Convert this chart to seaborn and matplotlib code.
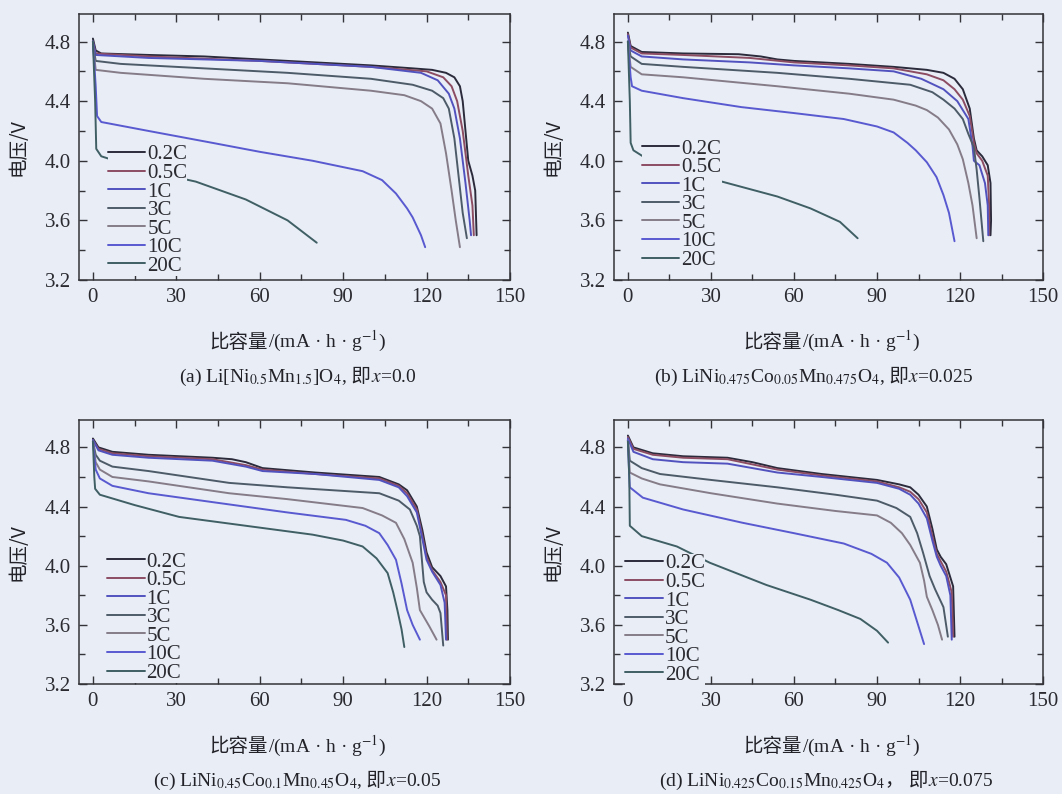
import numpy as np
import pandas as pd
import matplotlib
matplotlib.use("Agg")
import matplotlib.pyplot as plt
import seaborn as sns
from matplotlib.ticker import MultipleLocator
from matplotlib.lines import Line2D
from matplotlib.offsetbox import AnchoredOffsetbox, HPacker, TextArea

# ---------------- data (capacity mAh/g, voltage V) ----------------
RATES = ["0.2C", "0.5C", "1C", "3C", "5C", "10C", "20C"]
X_TICKS = [0, 30, 60, 90, 120, 150]
Y_TICKS = [3.2, 3.6, 4.0, 4.4, 4.8]

# panel (a)  x = 0.0
A_02C = [(0, 4.82), (1, 4.74), (3, 4.72), (20, 4.71), (40, 4.70), (60, 4.68), (80, 4.66), (100, 4.64), (115, 4.62),
         (122, 4.61), (127, 4.59), (130, 4.56), (132, 4.50), (133, 4.40), (134, 4.20), (135, 4.00), (136.5, 3.90),
         (137.5, 3.80), (138, 3.50)]
A_05C = [(0, 4.80), (1, 4.72), (20, 4.70), (60, 4.67), (100, 4.63), (120, 4.60), (126, 4.56), (129, 4.50), (131, 4.40),
         (133, 4.20), (135, 3.90), (136.5, 3.70), (137, 3.50)]
A_1C = [(0, 4.80), (1, 4.71), (20, 4.69), (60, 4.67), (100, 4.63), (118, 4.59), (124, 4.54), (128, 4.45), (130, 4.35),
        (132, 4.15), (134, 3.85), (135.5, 3.60), (136, 3.50)]
A_3C = [(0, 4.78), (1, 4.67), (10, 4.65), (40, 4.62), (70, 4.59), (100, 4.55), (115, 4.51), (122, 4.47), (126, 4.42),
        (128, 4.35), (130, 4.15), (131.5, 3.90), (133, 3.65), (134.5, 3.48)]
A_5C = [(0, 4.78), (1, 4.61), (10, 4.59), (40, 4.55), (70, 4.52), (100, 4.47), (112, 4.44), (118, 4.40), (122, 4.35),
        (125, 4.25), (127, 4.05), (129, 3.80), (130.5, 3.60), (132, 3.42)]
A_10C = [(0, 4.80), (1, 4.50), (1.5, 4.30), (3, 4.26), (20, 4.20), (43, 4.12), (60, 4.06), (79, 4.00), (97, 3.93),
         (104, 3.87), (109, 3.78), (113, 3.68), (115, 3.62), (118, 3.50), (119.5, 3.42)]
A_20C = [(0, 4.80), (0.8, 4.40), (1.2, 4.08), (3, 4.03), (8, 4.00), (20, 3.93), (37, 3.86), (55, 3.74), (70, 3.60),
         (80.5, 3.45)]

# panel (b)  x = 0.025
B_02C = [(0, 4.86), (1, 4.77), (5, 4.73), (20, 4.72), (40, 4.715), (48, 4.70), (54, 4.68), (60, 4.67), (80, 4.65),
         (96, 4.63), (108, 4.61), (114, 4.59), (118, 4.55), (121, 4.48), (123.5, 4.35), (125, 4.15), (126, 4.07),
         (128, 4.03), (130, 3.97), (131, 3.85), (131.2, 3.60), (131, 3.50)]
B_05C = [(0, 4.85), (1, 4.76), (5, 4.72), (20, 4.71), (44, 4.69), (60, 4.66), (80, 4.64), (96, 4.62), (108, 4.58),
         (114, 4.54), (118, 4.48), (121, 4.41), (123.5, 4.30), (125, 4.12), (126, 4.05), (128, 4.00), (130, 3.90),
         (130.5, 3.70), (130.5, 3.50)]
B_1C = [(0, 4.84), (1, 4.74), (5, 4.70), (20, 4.68), (44, 4.66), (60, 4.64), (80, 4.62), (96, 4.60), (106, 4.55),
        (114, 4.48), (119, 4.40), (123, 4.28), (124.5, 4.10), (125, 4.00), (127, 3.97), (129, 3.85), (130, 3.70),
        (130.2, 3.50)]
B_3C = [(0, 4.80), (1, 4.70), (5, 4.65), (20, 4.63), (54, 4.59), (80, 4.55), (102, 4.51), (110, 4.46), (114, 4.41),
        (118, 4.35), (121, 4.28), (123, 4.18), (125, 4.09), (126, 3.94), (127, 3.75), (128.4, 3.46)]
B_5C = [(0, 4.80), (1, 4.63), (5, 4.58), (20, 4.56), (54, 4.50), (80, 4.45), (96, 4.41), (104, 4.37), (108, 4.34),
        (112, 4.29), (116, 4.21), (119, 4.11), (121, 4.01), (123, 3.85), (124.5, 3.70), (126, 3.48)]
B_10C = [(0, 4.80), (1, 4.56), (1.5, 4.50), (5, 4.47), (20, 4.42), (41, 4.36), (60, 4.32), (78, 4.28), (90, 4.23),
         (96, 4.19), (101, 4.12), (104, 4.07), (108, 3.99), (111.5, 3.89), (114, 3.77), (116, 3.65), (118, 3.46)]
B_20C = [(0, 4.80), (0.7, 4.40), (1, 4.12), (2, 4.07), (5.4, 4.03), (34, 3.86), (54, 3.76), (66, 3.68), (76.6, 3.59),
         (83, 3.48)]

# panel (c)  x = 0.05
C_02C = [(0, 4.86), (2, 4.80), (7, 4.77), (20, 4.75), (43, 4.73), (50, 4.72), (55, 4.70), (61, 4.66), (80, 4.63),
         (103, 4.60), (110, 4.55), (113, 4.51), (116.5, 4.40), (118.5, 4.24), (120, 4.09), (122, 3.99), (125, 3.93),
         (127, 3.86), (127.5, 3.70), (127.7, 3.50)]
C_05C = [(0, 4.85), (2, 4.79), (7, 4.76), (20, 4.74), (43, 4.72), (55, 4.68), (61, 4.65), (80, 4.62), (103, 4.59),
         (110, 4.54), (113, 4.49), (116.5, 4.38), (118.5, 4.20), (120, 4.06), (122, 3.97), (125, 3.89), (127, 3.80),
         (127.3, 3.50)]
C_1C = [(0, 4.85), (2, 4.78), (7, 4.75), (20, 4.73), (43, 4.71), (55, 4.67), (61, 4.64), (80, 4.62), (103, 4.58),
        (110, 4.53), (113, 4.47), (116.5, 4.36), (118.5, 4.18), (120, 4.04), (122, 3.96), (125, 3.87), (126.5, 3.75),
        (127, 3.50)]
C_3C = [(0, 4.84), (1, 4.75), (2.5, 4.71), (7, 4.67), (20, 4.64), (49, 4.56), (70, 4.53), (103, 4.49), (110, 4.44),
        (114, 4.38), (116.5, 4.27), (117.6, 4.20), (118.5, 4.00), (119, 3.89), (120, 3.82), (122, 3.77), (124, 3.73),
        (125, 3.68), (126, 3.46)]
C_5C = [(0, 4.84), (1, 4.70), (2.5, 4.65), (7, 4.60), (20, 4.57), (49, 4.49), (70, 4.45), (97, 4.39), (104, 4.34),
        (109, 4.29), (112, 4.18), (115, 4.02), (116.5, 3.85), (117.6, 3.70), (121, 3.59), (123.6, 3.50)]
C_10C = [(0, 4.84), (1, 4.65), (2.5, 4.59), (7, 4.54), (20, 4.49), (43, 4.43), (70, 4.36), (91, 4.31), (98, 4.27),
         (103, 4.22), (106, 4.14), (109, 4.04), (111, 3.88), (113, 3.70), (115, 3.60), (117.6, 3.50)]
C_20C = [(0, 4.84), (0.5, 4.60), (0.8, 4.52), (2.5, 4.48), (15, 4.41), (31, 4.33), (55, 4.27), (79, 4.21), (90, 4.17),
         (97, 4.13), (102, 4.05), (106, 3.95), (108, 3.82), (109.5, 3.70), (111, 3.57), (112, 3.45)]

# panel (d)  x = 0.075
D_02C = [(0, 4.88), (2, 4.80), (9, 4.76), (20, 4.74), (36, 4.73), (45, 4.70), (54, 4.66), (70, 4.62), (90, 4.58),
         (98, 4.55), (102, 4.53), (105, 4.48), (108, 4.40), (110, 4.25), (111.6, 4.11), (113, 4.06), (115, 4.01),
         (117.5, 3.86), (118, 3.52)]
D_05C = [(0, 4.87), (2, 4.79), (9, 4.75), (20, 4.73), (36, 4.72), (54, 4.65), (70, 4.61), (90, 4.57), (98, 4.53),
         (102, 4.50), (105, 4.45), (108, 4.36), (110, 4.20), (111.6, 4.08), (113, 4.03), (115, 3.96), (117, 3.82),
         (117.5, 3.52)]
D_1C = [(0, 4.86), (2, 4.77), (9, 4.72), (20, 4.70), (36, 4.69), (54, 4.63), (70, 4.60), (90, 4.56), (98, 4.52),
        (102, 4.48), (105, 4.42), (108, 4.32), (110, 4.17), (111.6, 4.06), (113, 4.00), (115, 3.93), (116.5, 3.80),
        (117, 3.50)]
D_3C = [(0, 4.85), (0.7, 4.71), (5, 4.66), (11.6, 4.62), (30, 4.58), (54, 4.53), (75, 4.48), (90, 4.44), (97, 4.39),
        (102, 4.33), (104.5, 4.22), (106.6, 4.09), (109, 3.93), (111, 3.84), (114, 3.72), (115.6, 3.52)]
D_5C = [(0, 4.85), (0.7, 4.63), (5, 4.59), (11.6, 4.55), (30, 4.49), (54, 4.42), (75, 4.37), (90, 4.34), (95, 4.29),
        (99, 4.22), (102, 4.14), (105.5, 4.02), (107, 3.90), (108, 3.79), (110, 3.70), (112, 3.60), (113.5, 3.50)]
D_10C = [(0, 4.85), (0.5, 4.60), (0.7, 4.53), (5.4, 4.46), (20, 4.38), (41.5, 4.29), (60, 4.22), (78, 4.15),
         (88, 4.08), (93.6, 4.02), (98, 3.92), (102, 3.77), (104.5, 3.62), (107, 3.47)]
D_20C = [(0, 4.84), (0.5, 4.60), (0.7, 4.27), (5, 4.20), (17.7, 4.13), (29.6, 4.02), (50, 3.87), (66, 3.77),
         (76, 3.70), (84, 3.64), (90, 3.56), (94, 3.48)]

PANEL_DATA = {
    "a": [A_02C, A_05C, A_1C, A_3C, A_5C, A_10C, A_20C],
    "b": [B_02C, B_05C, B_1C, B_3C, B_5C, B_10C, B_20C],
    "c": [C_02C, C_05C, C_1C, C_3C, C_5C, C_10C, C_20C],
    "d": [D_02C, D_05C, D_1C, D_3C, D_5C, D_10C, D_20C],
}

# ---------------- styling ----------------
BG = "#e8edf6"
INK = "#333338"
COLORS = ["#2b2b3c", "#8c4c62", "#5252bf", "#4d5b68", "#857c88", "#5959d0", "#3f5f64"]

sns.set_theme(style="ticks")
plt.rcParams["font.family"] = ["Liberation Serif", "Noto Sans CJK SC", "DejaVu Sans"]
plt.rcParams["mathtext.fontset"] = "stix"
plt.rcParams["axes.edgecolor"] = INK
plt.rcParams["axes.linewidth"] = 1.1

fig = plt.figure(figsize=(10.62, 7.94), dpi=100, facecolor=BG)

positions = {
    "a": [0.0744, 0.6474, 0.4058, 0.3350],
    "b": [0.5782, 0.6474, 0.4040, 0.3350],
    "c": [0.0744, 0.1385, 0.4058, 0.3325],
    "d": [0.5782, 0.1385, 0.4040, 0.3325],
}
legend_anchor = {"a": (0.067, 0.508), "b": (0.065, 0.530), "c": (0.065, 0.500), "d": (0.026, 0.493)}

CJK = ["Noto Sans CJK SC"]
SERIF = ["Liberation Serif"]
FS = 14

captions = {
    "a": [("(a) Li[Ni$_{0.5}$Mn$_{1.5}$]O$_4$,", SERIF), (" 即", CJK), ("$x$=0.0", SERIF)],
    "b": [("(b) LiNi$_{0.475}$Co$_{0.05}$Mn$_{0.475}$O$_4$,", SERIF), (" 即", CJK), ("$x$=0.025", SERIF)],
    "c": [("(c) LiNi$_{0.45}$Co$_{0.1}$Mn$_{0.45}$O$_4$,", SERIF), (" 即", CJK), ("$x$=0.05", SERIF)],
    "d": [("(d) LiNi$_{0.425}$Co$_{0.15}$Mn$_{0.425}$O$_4$", SERIF), ("， 即", CJK), ("$x$=0.075", SERIF)],
}
caption_x = {"a": 0.508, "b": 0.465, "c": 0.506, "d": 0.494}


def make_box(pieces, x, y, ax):
    children = [TextArea(t, textprops=dict(family=fam, size=FS, color="#222228")) for t, fam in pieces]
    pack = HPacker(children=children, align="baseline", pad=0, sep=0)
    box = AnchoredOffsetbox(loc="center", child=pack, bbox_to_anchor=(x, y),
                            bbox_transform=ax.transAxes, frameon=False, pad=0, borderpad=0)
    box.set_clip_on(False)
    ax.add_artist(box)


for key in ["a", "b", "c", "d"]:
    ax = fig.add_axes(positions[key])
    ax.set_facecolor(BG)
    rows = []
    for rate, pts in zip(RATES, PANEL_DATA[key]):
        for i, (cx, v) in enumerate(pts):
            rows.append({"capacity": cx, "voltage": v, "rate": rate, "order": i})
    df = pd.DataFrame(rows)
    sns.lineplot(data=df, x="capacity", y="voltage", hue="rate", hue_order=RATES,
                 palette=COLORS, sort=False, estimator=None, linewidth=1.4, legend=False, ax=ax)

    ax.set_xlim(-5, 150)
    ax.set_ylim(3.2, 4.985)
    ax.set_xticks(X_TICKS)
    ax.set_yticks(Y_TICKS)
    ax.set_yticklabels([f"{t:.1f}" for t in Y_TICKS])
    ax.xaxis.set_minor_locator(MultipleLocator(15))
    ax.yaxis.set_minor_locator(MultipleLocator(0.2))
    ax.tick_params(which="both", direction="in", top=True, right=True, colors=INK,
                   labelsize=15, pad=6, width=1.0)
    ax.tick_params(which="major", length=6)
    ax.tick_params(which="minor", length=4)
    for lab in ax.get_xticklabels() + ax.get_yticklabels():
        lab.set_color("#2a2a30")

    ax.set_xlabel("")
    ax.set_ylabel("电压/V", fontsize=FS, family=CJK + SERIF, color="#222228")
    ax.yaxis.set_label_coords(-0.118, 0.5)

    handles = [Line2D([0], [0], color=c, lw=1.4) for c in COLORS]
    leg = ax.legend(handles, RATES, loc="upper left", bbox_to_anchor=legend_anchor[key],
                    fontsize=15, frameon=True, facecolor=BG, edgecolor="none", framealpha=1,
                    handlelength=1.8, handletextpad=0.1, labelspacing=-0.05, borderpad=0.0,
                    borderaxespad=0.0, fancybox=False)
    for t in leg.get_texts():
        t.set_color("#2a2a30")

    bottom_px = 266 if key in "ab" else 264
    make_box([("比容量", CJK), ("/(mA · h · g$^{-1}$)", SERIF)], 0.508, -62 / bottom_px, ax)
    make_box(captions[key], caption_x[key], -97 / bottom_px, ax)

fig.savefig("out.png", dpi=100, facecolor=BG)
